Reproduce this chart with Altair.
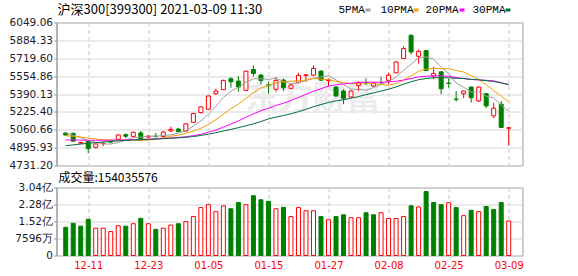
import json
import pandas as pd
import altair as alt

dates = ["12-08","12-09","12-10","12-11","12-14","12-15","12-16","12-17","12-18","12-21",
         "12-22","12-23","12-24","12-25","12-28","12-29","12-30","12-31","01-04","01-05",
         "01-06","01-07","01-08","01-11","01-12","01-13","01-14","01-15","01-18","01-19",
         "01-20","01-21","01-22","01-25","01-26","01-27","01-28","01-29","02-01","02-02",
         "02-03","02-04","02-05","02-08","02-09","02-10","02-18","02-19","02-22","02-23",
         "02-24","02-25","02-26","03-01","03-02","03-03","03-04","03-05","03-08","03-09"]

opens = [5030.5, 5026.8, 4937.1, 4953.5, 4898.7, 4932.5, 4950.8, 4971.8, 5014.9, 4999.3,
         5031.3, 4993.8, 5001.1, 4999.3, 5049.6, 5067.0, 5048.7, 5129.3, 5219.0, 5250.1,
         5392.8, 5429.5, 5530.1, 5509.1, 5423.9, 5616.2, 5564.0, 5474.3, 5433.1, 5518.3,
         5442.3, 5497.2, 5561.2, 5564.0, 5600.6, 5513.7, 5454.2, 5417.6, 5362.7, 5469.7,
         5495.4, 5463.3, 5495.5, 5515.5, 5585.0, 5716.8, 5930.1, 5737.9, 5790.0, 5554.9,
         5594.2, 5489.9, 5343.4, 5392.8, 5454.2, 5326.0, 5392.8, 5188.8, 5295.9, 5074.3]
highs = [5039.6, 5035.9, 4950.8, 4962.7, 4932.5, 4950.8, 4966.4, 5019.4, 5026.8, 5042.4,
         5048.7, 5014.9, 5030.5, 5046.9, 5088.0, 5078.9, 5120.1, 5216.2, 5275.7, 5376.4,
         5438.6, 5522.8, 5545.7, 5554.9, 5605.2, 5652.8, 5575.9, 5502.7, 5545.7, 5533.8,
         5481.6, 5585.0, 5570.4, 5655.5, 5609.8, 5533.8, 5463.3, 5433.1, 5422.1, 5509.1,
         5533.8, 5499.9, 5548.5, 5585.0, 5692.1, 5829.4, 5942.0, 5799.2, 5797.4, 5639.9,
         5600.6, 5533.8, 5417.6, 5422.1, 5458.8, 5458.8, 5399.2, 5310.5, 5326.0, 5088.0]
lows = [5008.5, 4950.8, 4929.7, 4845.6, 4886.8, 4911.4, 4935.3, 4969.1, 4982.8, 4996.6,
        4957.2, 4982.8, 4987.4, 4993.8, 5039.6, 5037.8, 5042.4, 5124.7, 5211.7, 5246.4,
        5381.0, 5426.7, 5447.8, 5411.2, 5422.1, 5552.1, 5478.9, 5392.8, 5411.2, 5417.6,
        5435.9, 5488.0, 5502.7, 5554.9, 5510.0, 5463.3, 5362.7, 5295.9, 5358.1, 5417.6,
        5472.5, 5454.2, 5483.8, 5478.9, 5582.3, 5715.0, 5753.6, 5669.4, 5600.6, 5524.7,
        5387.4, 5447.8, 5319.6, 5350.8, 5310.5, 5316.8, 5259.2, 5167.7, 5079.0, 4914.2]
closes = [5012.1, 4955.4, 4941.7, 4886.8, 4929.8, 4937.1, 4948.1, 5012.1, 5001.1, 5037.8,
          4964.5, 5001.1, 4998.4, 5039.6, 5063.3, 5045.1, 5115.5, 5209.8, 5271.1, 5371.8,
          5417.6, 5515.5, 5502.7, 5454.2, 5600.6, 5579.6, 5515.5, 5470.7, 5515.5, 5447.8,
          5472.5, 5561.2, 5566.7, 5625.3, 5518.3, 5520.1, 5371.8, 5350.8, 5417.6, 5493.5,
          5491.7, 5490.8, 5494.4, 5564.0, 5685.7, 5808.3, 5777.3, 5783.7, 5607.0, 5579.6,
          5438.6, 5487.1, 5340.7, 5417.6, 5356.3, 5454.2, 5280.3, 5259.2, 5081.7, 5078.9]

# volume in 亿
volumes = [1.26, 1.44, 1.31, 1.62, 1.22, 1.22, 1.07, 1.33, 1.31, 1.42,
           1.66, 1.42, 1.17, 1.22, 1.36, 1.42, 1.51, 1.74, 2.14, 2.27,
           1.96, 2.22, 2.09, 2.37, 2.27, 2.67, 2.49, 2.42, 2.09, 2.15,
           1.74, 2.14, 2.00, 2.00, 1.74, 1.60, 1.74, 1.82, 1.69, 1.69,
           1.91, 1.82, 1.91, 1.65, 1.65, 1.74, 2.22, 2.17, 2.86, 2.37,
           2.27, 2.36, 2.14, 1.78, 2.02, 1.96, 2.19, 2.06, 2.37, 1.5404]
vol_up = [0, 0, 0, 0, 1, 1, 1, 1, 0, 1,
          0, 1, 0, 1, 1, 0, 1, 1, 1, 1,
          1, 1, 0, 0, 1, 0, 0, 0, 1, 0,
          1, 1, 1, 1, 0, 1, 0, 0, 1, 1,
          0, 0, 1, 1, 1, 1, 0, 1, 0, 0,
          0, 1, 0, 1, 0, 1, 0, 0, 0, 1]

ma5 = [5030, 5010, 4987, 4960, 4945.2, 4930.2, 4928.7, 4942.8, 4965.6, 4987.2,
       4992.7, 5003.3, 5000.6, 5008.3, 5013.4, 5029.5, 5052.4, 5094.7, 5141.0, 5202.7,
       5277.2, 5357.2, 5415.7, 5452.4, 5498.1, 5530.5, 5530.5, 5524.1, 5536.4, 5505.8,
       5484.4, 5493.5, 5512.7, 5534.7, 5548.8, 5558.3, 5520.4, 5477.3, 5435.7, 5430.8,
       5425.1, 5448.9, 5477.6, 5506.9, 5545.3, 5608.6, 5665.9, 5723.8, 5732.4, 5711.2,
       5637.2, 5579.2, 5490.6, 5452.7, 5408.1, 5411.2, 5369.8, 5353.5, 5286.3, 5230.9]
ma10 = [5006, 5001, 4994, 4983, 4975, 4969, 4964, 4965, 4963, 4966.2,
        4961.4, 4966.0, 4971.7, 4987.0, 5000.3, 5011.1, 5027.9, 5047.6, 5074.6, 5108.0,
        5153.3, 5204.8, 5255.2, 5296.7, 5350.4, 5403.8, 5443.8, 5469.9, 5494.4, 5502.0,
        5507.5, 5512.0, 5518.4, 5535.5, 5527.3, 5521.4, 5507.0, 5495.0, 5485.2, 5489.8,
        5491.7, 5484.7, 5477.4, 5471.3, 5488.0, 5516.9, 5557.4, 5600.7, 5619.6, 5628.3,
        5622.9, 5622.6, 5607.2, 5592.6, 5559.6, 5524.2, 5474.5, 5422.1, 5369.5, 5319.5]
ma20 = [4967, 4966, 4965, 4964, 4964, 4964, 4965, 4966, 4967, 4969,
        4971, 4974, 4977, 4981, 4985, 4990, 4996, 5006.3, 5018.8, 5037.1,
        5057.4, 5085.4, 5113.4, 5141.8, 5175.4, 5207.5, 5235.8, 5258.8, 5284.5, 5305.0,
        5330.4, 5358.4, 5386.8, 5416.1, 5438.9, 5462.6, 5475.4, 5482.5, 5489.8, 5495.9,
        5499.6, 5498.3, 5497.9, 5503.4, 5507.7, 5519.1, 5532.2, 5547.9, 5552.4, 5559.0,
        5557.3, 5553.6, 5542.3, 5531.9, 5523.8, 5520.5, 5516.0, 5511.4, 5494.6, 5473.9]
ma30 = [4914, 4921, 4929, 4936, 4942, 4948, 4953, 4958, 4962, 4966,
        4969, 4972, 4975, 4978, 4982, 4986, 4991, 4998, 5008, 5020,
        5034, 5049, 5064, 5080, 5097, 5115, 5136, 5160.8, 5177.3, 5192.1,
        5207.4, 5227.6, 5248.4, 5273.1, 5292.7, 5312.1, 5326.2, 5337.5, 5351.4, 5366.6,
        5384.2, 5400.5, 5417.0, 5434.5, 5455.2, 5480.7, 5502.7, 5521.9, 5533.1, 5540.0,
        5540.7, 5539.8, 5534.4, 5533.1, 5525.0, 5520.8, 5513.0, 5505.9, 5491.5, 5479.2]

price_ticks = [4731.20, 4895.93, 5060.66, 5225.40, 5390.13, 5554.86, 5719.60, 5884.33, 6049.06]
vol_ticks = [0, 0.7596, 1.5192, 2.2788, 3.0384]
vol_tick_labels = ["0", "7596万", "1.52亿", "2.28亿", "3.04亿"]
date_ticks = ["12-11", "12-23", "01-05", "01-15", "01-27", "02-08", "02-25", "03-09"]

title_text = "沪深300[399300] 2021-03-09 11:30"
vol_title = "成交量:154035576"
watermark = "东方财富"
ma_names = ["5PMA", "10PMA", "20PMA", "30PMA"]
ma_fields = ["ma5", "ma10", "ma20", "ma30"]
ma_colors = ["#a0a0a0", "#f5a000", "#ff00ff", "#00703c"]

RED = "#ff0000"
GREEN = "#008000"

df = pd.DataFrame({
    "i": list(range(len(dates))), "date": dates,
    "open": opens, "high": highs, "low": lows, "close": closes,
    "vol": volumes, "vup": vol_up,
    "ma5": ma5, "ma10": ma10, "ma20": ma20, "ma30": ma30,
})

tick_idx = [dates.index(d) for d in date_ticks]

xscale = alt.Scale(domain=[-0.56, 60.17], nice=False, zero=False)
pscale = alt.Scale(domain=[price_ticks[0], price_ticks[-1]], nice=False, zero=False)
vscale = alt.Scale(domain=[vol_ticks[0], vol_ticks[-1]], nice=False, zero=True)

X_top = alt.X("i:Q", scale=xscale, axis=alt.Axis(
    values=tick_idx, labels=False, ticks=False, domain=False, grid=True,
    gridDash=[4, 3], gridColor="#c8c8c8", gridWidth=1, title=None))

price_axis = alt.Axis(values=price_ticks, format=".2f", title=None,
                      labelFont="DejaVu Sans", labelFontSize=10.5, labelColor="#1a1a2a",
                      labelPadding=1, tickSize=3, tickColor="#999999",
                      domainColor="#999999", gridColor="#d6d6d6",
                      labelFlush=False, labelOverlap=False)

def py(field):
    return alt.Y(f"{field}:Q", scale=pscale, axis=price_axis)

base = alt.Chart(df)
up_cond = "datum.close >= datum.open"

wm = alt.Chart(pd.DataFrame({"t": [watermark]})).mark_text(
    font="Noto Sans CJK SC", fontSize=34, fontWeight="bold", color="#ececec",
    align="center", baseline="middle").encode(
    x=alt.value(256), y=alt.value(77), text="t:N")

wick = base.mark_rule(strokeWidth=1).encode(
    x=X_top, y=py("low"), y2="high:Q",
    color=alt.condition(up_cond, alt.value(RED), alt.value(GREEN)))

body = base.mark_bar(size=4, strokeWidth=1).encode(
    x=X_top, y=py("open"), y2="close:Q",
    fill=alt.condition(up_cond, alt.value("#ffffff"), alt.value(GREEN)),
    stroke=alt.condition(up_cond, alt.value(RED), alt.value(GREEN)))

lines = [base.mark_line(strokeWidth=1, color=c).encode(x=X_top, y=py(f))
         for f, c in zip(ma_fields, ma_colors)]

title_layer = alt.Chart(pd.DataFrame({"t": [title_text]})).mark_text(
    font="Noto Sans CJK SC", fontSize=13, color="#000000",
    align="left", baseline="middle").encode(
    x=alt.value(1), y=alt.value(-13), text="t:N")

legend_x = [282, 324, 369, 416]
swatch_x = [309, 357, 403, 449]
legend_layers = []
for name, col, lx, sx in zip(ma_names, ma_colors, legend_x, swatch_x):
    d = pd.DataFrame({"t": [name]})
    legend_layers.append(alt.Chart(d).mark_text(
        font="Liberation Mono", fontSize=11, color="#000000",
        align="left", baseline="middle").encode(
        x=alt.value(lx), y=alt.value(-13), text="t:N"))
    legend_layers.append(alt.Chart(d).mark_rect(color=col).encode(
        x=alt.value(sx), x2=alt.value(sx + 5), y=alt.value(-14), y2=alt.value(-11)))

top = alt.layer(wm, wick, body, *lines, title_layer, *legend_layers).properties(
    width=466, height=143)

label_expr = f"{json.dumps(dates)}[datum.value]"
X_bot = alt.X("i:Q", scale=xscale, axis=alt.Axis(
    values=tick_idx, labelExpr=label_expr, labelColor=RED, labelFont="DejaVu Sans",
    labelFontSize=10, labelPadding=5, ticks=False, domain=False, grid=True,
    gridDash=[4, 3], gridColor="#c8c8c8", gridWidth=1, labelFlush=False,
    labelOverlap=False, title=None))

vol_label_expr = f"{json.dumps(vol_tick_labels)}[indexof({json.dumps(vol_ticks)}, datum.value)]"
vol_axis = alt.Axis(values=vol_ticks, labelExpr=vol_label_expr, title=None,
                    labelFont="DejaVu Sans", labelFontSize=10.5, labelColor="#1a1a2a",
                    labelPadding=1, tickSize=3, tickColor="#999999",
                    domainColor="#999999", gridColor="#d6d6d6",
                    labelFlush=False, labelOverlap=False)

vup_cond = "datum.vup == 1"
vbars = base.mark_bar(size=4, strokeWidth=1).encode(
    x=X_bot, y=alt.Y("vol:Q", scale=vscale, axis=vol_axis),
    fill=alt.condition(vup_cond, alt.value("#ffffff"), alt.value(GREEN)),
    stroke=alt.condition(vup_cond, alt.value(RED), alt.value(GREEN)))

vtitle = alt.Chart(pd.DataFrame({"t": [vol_title]})).mark_text(
    font="Noto Sans CJK SC", fontSize=12, color="#000000",
    align="left", baseline="middle").encode(
    x=alt.value(2), y=alt.value(-10), text="t:N")

bottom = alt.layer(vbars, vtitle).properties(width=466, height=68)

chart = alt.vconcat(top, bottom, spacing=22, bounds="flush").properties(
    padding={"left": 8.5, "top": 2.5, "right": 10, "bottom": 4},
    background="#ffffff",
).configure_view(stroke="#999999", strokeWidth=1)

chart.save("out.html", embed_options={"renderer": "svg", "actions": False})
